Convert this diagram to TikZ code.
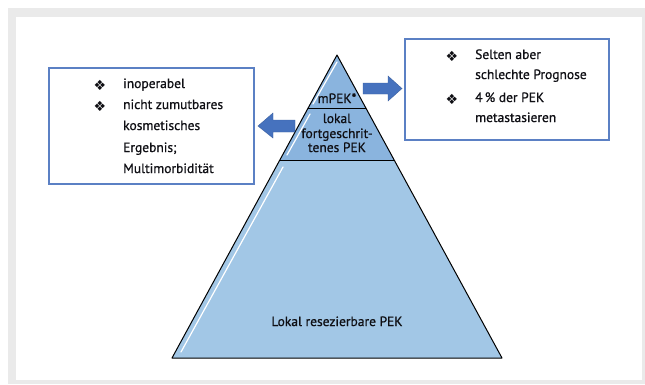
\documentclass[tikz,border=0pt]{standalone}
\usepackage{fontspec}
\setmainfont{PT Sans}[FakeBold=0.7]
\newfontfamily\symfont{DejaVu Sans}
\definecolor{framegray}{RGB}{234,234,234}
\definecolor{boxblue}{RGB}{91,128,196}
\definecolor{arrowblue}{RGB}{70,114,190}
\definecolor{pyrtop}{RGB}{138,180,222}
\definecolor{pyrbot}{RGB}{162,199,230}
\definecolor{txt}{RGB}{15,15,20}
\tikzset{
  infobox/.style={draw=boxblue, line width=1.2pt, fill=white},
  txtline/.style={anchor=west, inner sep=0pt, text height=9pt, text depth=3pt, text=txt, font=\fontsize{13.5}{15}\selectfont},
  bul/.style={anchor=center, inner sep=0pt, text=txt, font=\symfont\fontsize{14}{16}\selectfont},
  pyrtxt/.style={anchor=center, inner sep=0pt, text height=9pt, text depth=3pt, text=txt, font=\fontsize{13.5}{15}\selectfont},
  section/.style={draw=black, line width=1pt, line join=round},
  shine/.style={draw=white, line width=1.2pt, line cap=round},
  blockarrow/.style={fill=arrowblue, draw=arrowblue!85!black, line width=0.4pt, line join=miter},
}
\begin{document}
\begin{tikzpicture}[x=1pt,y=-1pt]
\useasboundingbox (0,0) rectangle (645,384);
\fill[white] (0,0) rectangle (645,384);
\fill[framegray] (8,8) rectangle (645,384);
\fill[white] (16,17) rectangle (642,380);

% pyramid coordinates
\coordinate (apex) at (337,55);
\coordinate (l1) at (308,108);
\coordinate (r1) at (366,108);
\coordinate (l2) at (280,160);
\coordinate (r2) at (394,160);
\coordinate (bl) at (172,358);
\coordinate (br) at (502,358);

\fill[pyrbot] (l2) -- (r2) -- (br) -- (bl) -- cycle;
\fill[pyrtop] (l1) -- (r1) -- (r2) -- (l2) -- cycle;
\fill[pyrtop] (apex) -- (r1) -- (l1) -- cycle;

% shine lines
\draw[shine] (337,62) -- (313,104);
\draw[shine] (310,114) -- (287,155);
\draw[shine] (283,167) -- (181,352);

\draw[section] (apex) -- (br) -- (bl) -- cycle;
\draw[section] (l1) -- (r1);
\draw[section] (l2) -- (r2);

% pyramid texts
\node[pyrtxt] (mpek) at (337,100) {mPEK*};
\node[pyrtxt] (lok1) at (337,120) {lokal};
\node[pyrtxt] (lok2) at (337,135) {fortgeschrit-};
\node[pyrtxt] (lok3) at (337,149) {tenes PEK};
\node[pyrtxt] (res) at (337,323) {Lokal resezierbare PEK};

% arrows
\draw[blockarrow] (363,83) -- (388,83) -- (388,76) -- (402,88.5) -- (388,101) -- (388,94) -- (363,94) -- cycle;
\draw[blockarrow] (295,120) -- (273,120) -- (273,113) -- (258,126) -- (273,138) -- (273,132) -- (295,132) -- cycle;

% left box
\draw[infobox] (49,68) rectangle (254,184);
\node[bul] (lb1) at (100,85) {❖};
\node[bul] (lb2) at (100,106) {❖};
\node[txtline] (lt1) at (123,85) {inoperabel};
\node[txtline] (lt2) at (123,106) {nicht zumutbares};
\node[txtline] (lt3) at (123,127) {kosmetisches};
\node[txtline] (lt4) at (123,149) {Ergebnis;};
\node[txtline] (lt5) at (123,170) {Multimorbidität};

% right box
\draw[infobox] (405,39) rectangle (609,140);
\node[bul] (rb1) at (452,56) {❖};
\node[bul] (rb2) at (452,99) {❖};
\node[txtline] (rt1) at (475,56) {Selten aber};
\node[txtline] (rt2) at (475,76) {schlechte Prognose};
\node[txtline] (rt3) at (475,99) {4\,\% der PEK};
\node[txtline] (rt4) at (475,119) {metastasieren};
\end{tikzpicture}
\end{document}
